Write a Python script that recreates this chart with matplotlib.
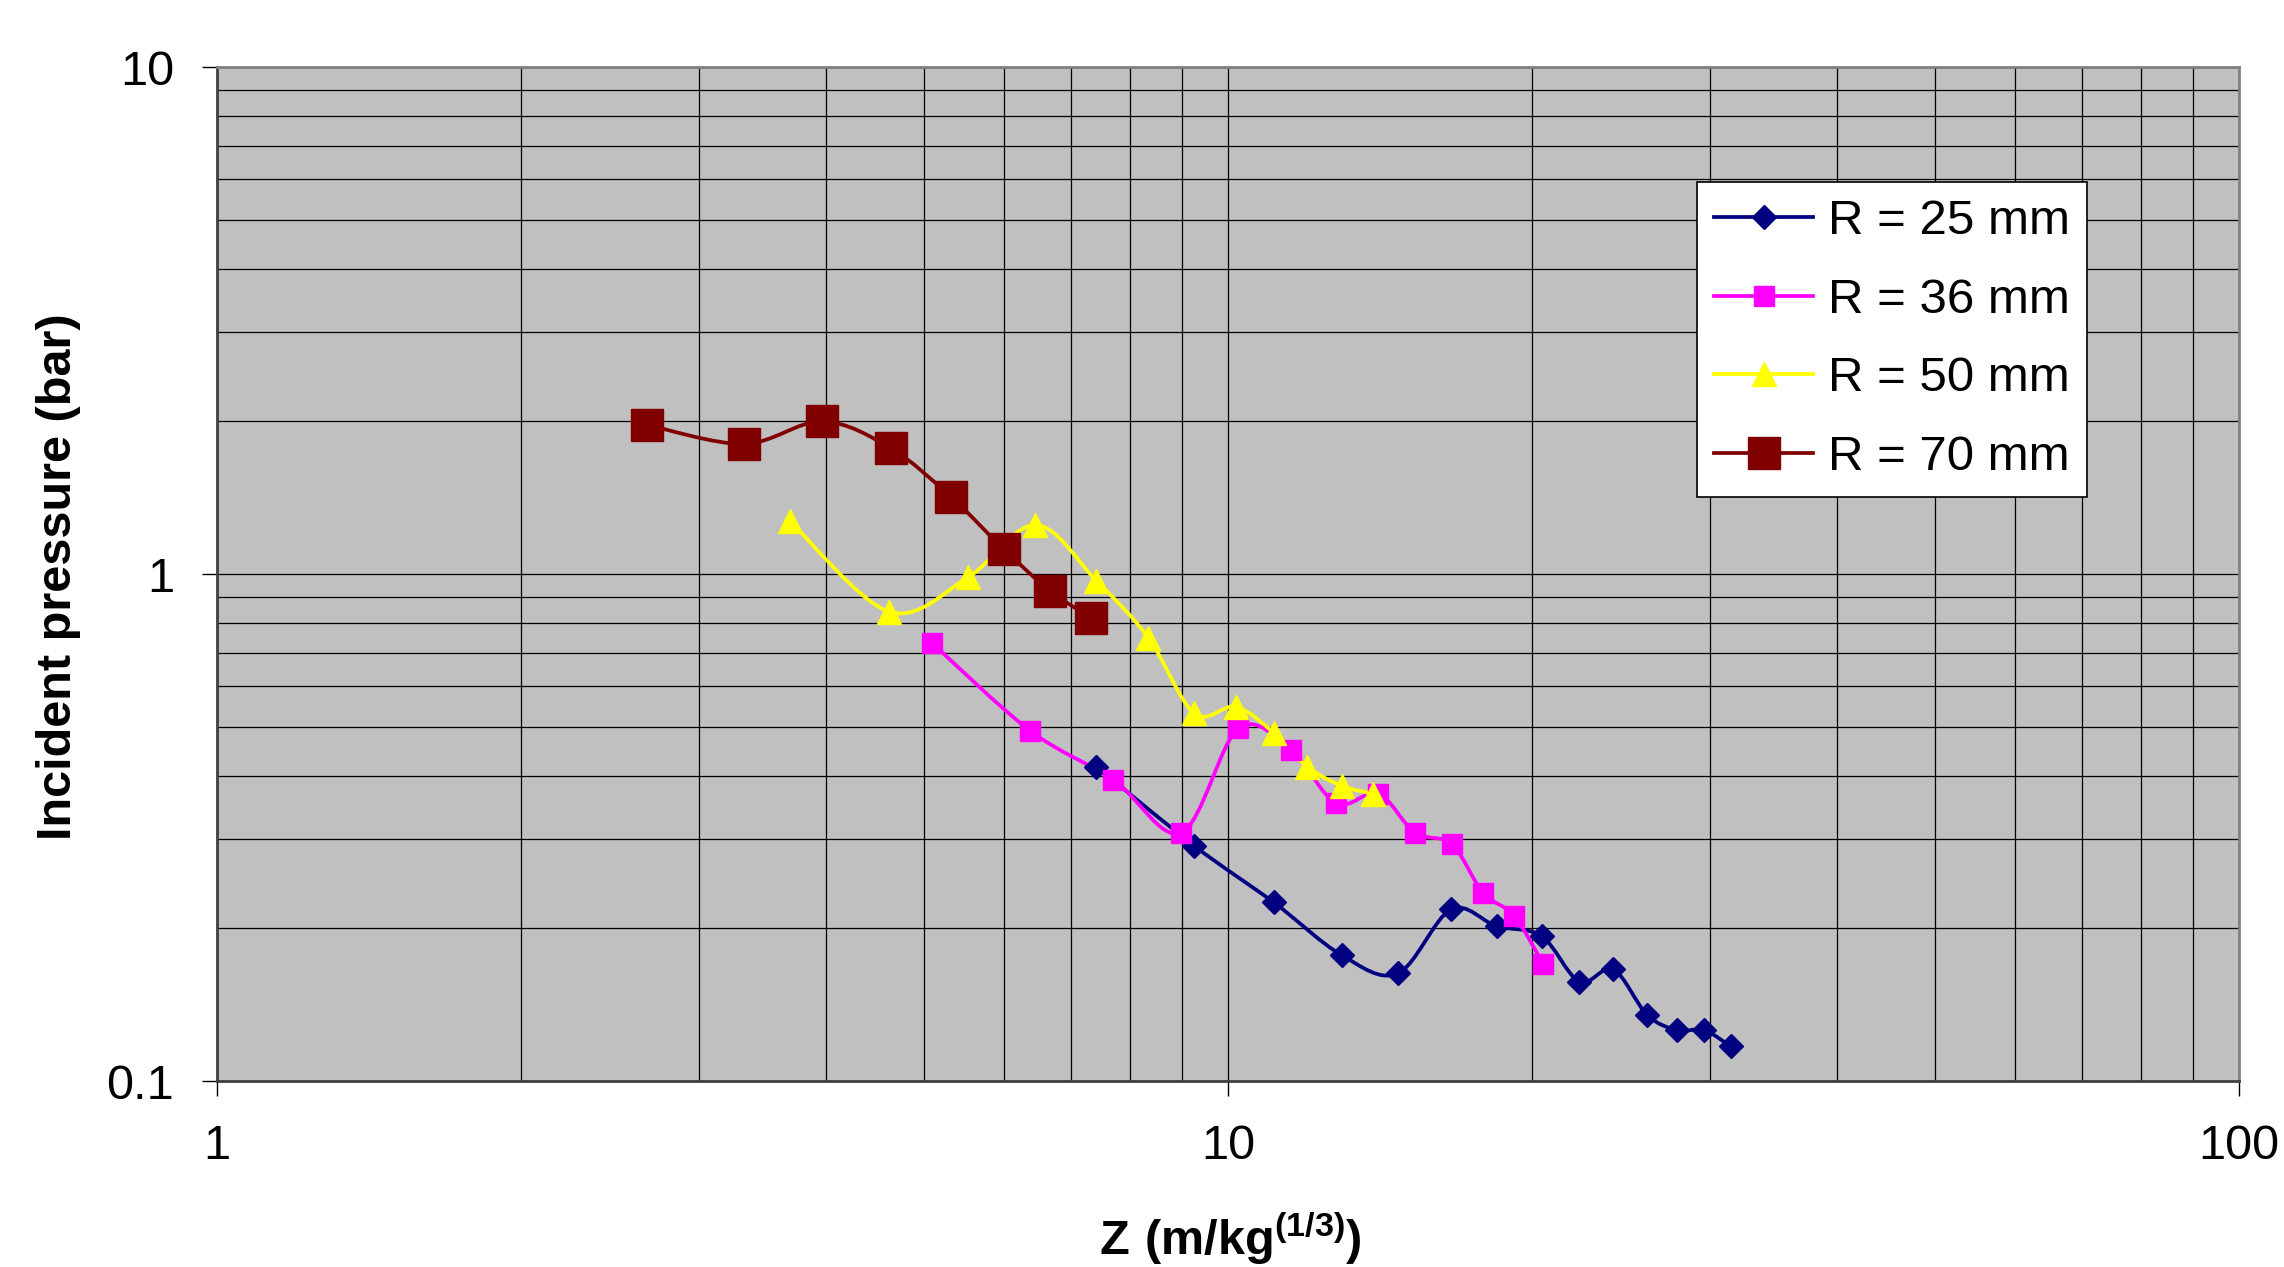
import numpy as np
import matplotlib
matplotlib.use("Agg")
import matplotlib.pyplot as plt
from matplotlib.path import Path
from matplotlib.patches import PathPatch
from matplotlib.lines import Line2D

plt.rcParams['font.family'] = ['Liberation Sans', 'DejaVu Sans']
plt.rcParams['mathtext.fontset'] = 'custom'
plt.rcParams['mathtext.rm'] = 'Liberation Sans'
plt.rcParams['mathtext.bf'] = 'Liberation Sans:bold'

# scaled distance Z (m/kg^(1/3)) and incident pressure (bar)
z_25 = [7.41, 9.26, 11.10, 12.96, 14.72, 16.62, 18.44, 20.43, 22.26, 24.05, 25.98, 27.82, 29.57, 31.43]
p_25 = [0.417, 0.291, 0.225, 0.177, 0.163, 0.218, 0.202, 0.193, 0.157, 0.166, 0.135, 0.126, 0.126, 0.117]

z_36 = [5.10, 6.37, 7.70, 8.99, 10.24, 11.54, 12.79, 14.08, 15.30, 16.65, 17.88, 19.17, 20.51]
p_36 = [0.730, 0.491, 0.393, 0.309, 0.496, 0.450, 0.353, 0.369, 0.309, 0.293, 0.235, 0.212, 0.170]

z_50 = [3.69, 4.62, 5.53, 6.45, 7.41, 8.34, 9.26, 10.18, 11.10, 11.98, 12.96, 13.90]
p_50 = [1.27, 0.843, 0.985, 1.25, 0.97, 0.749, 0.531, 0.547, 0.486, 0.417, 0.382, 0.369]

z_70 = [2.66, 3.32, 3.97, 4.64, 5.32, 6.00, 6.67, 7.32]
p_70 = [1.97, 1.805, 2.00, 1.77, 1.42, 1.12, 0.926, 0.82]

labels = ['R = 25 mm', 'R = 36 mm', 'R = 50 mm', 'R = 70 mm']
x_ticks = [1, 10, 100]
x_tick_labels = ['1', '10', '100']
y_ticks = [0.1, 1, 10]
y_tick_labels = ['0.1', '1', '10']


def smooth_path(x, y):
    # excel-like smoothed line: bezier segments in log space, through the data points
    pts = np.column_stack([np.log10(x), np.log10(y)])
    n = len(pts)
    verts = [pts[0]]
    codes = [Path.MOVETO]
    for i in range(n - 1):
        p0 = pts[i - 1] if i > 0 else pts[i]
        p1 = pts[i]
        p2 = pts[i + 1]
        p3 = pts[i + 2] if i + 2 < n else pts[i + 1]
        verts += [p1 + (p2 - p0) / 6, p2 - (p3 - p1) / 6, p2]
        codes += [Path.CURVE4] * 3
    return Path(10 ** np.array(verts), codes)


fig = plt.figure(figsize=(22.84, 12.67), dpi=100)
ax = fig.add_axes([0.0950, 0.1468, 0.8853, 0.8003])
ax.set_facecolor('#C0C0C0')
ax.set_xscale('log')
ax.set_yscale('log')
ax.set_xlim(1, 100)
ax.set_ylim(0.1, 10)

ax.grid(True, which='both', color='black', linewidth=0.9)
ax.set_axisbelow(True)

series = [
    (z_25, p_25, '#000080', 'D', 12),
    (z_36, p_36, '#FF00FF', 's', 14.5),
    (z_50, p_50, '#FFFF00', '^', 17.5),
    (z_70, p_70, '#800000', 's', 23.5),
]

handles = []
for (zs, ps, color, marker, ms), label in zip(series, labels):
    patch = PathPatch(smooth_path(zs, ps), fill=False, edgecolor=color,
                      linewidth=2.7, transform=ax.transData, zorder=3)
    ax.add_patch(patch)
    ax.plot(zs, ps, linestyle='none', marker=marker, markersize=ms,
            color=color, markeredgecolor=color, markeredgewidth=1, zorder=4)
    handles.append(Line2D([], [], color=color, linewidth=2.7, marker=marker,
                          markersize=ms, markeredgecolor=color, label=label))

ax.set_xticks(x_ticks)
ax.set_xticklabels(x_tick_labels)
ax.set_yticks(y_ticks)
ax.set_yticklabels(y_tick_labels)
ax.tick_params(which='major', length=11, width=1, direction='out',
               labelsize=35, pad=20)
ax.tick_params(which='minor', length=0)
ax.yaxis.set_minor_formatter(plt.NullFormatter())
ax.xaxis.set_minor_formatter(plt.NullFormatter())

for side in ['top', 'right']:
    ax.spines[side].set_color('#808080')
    ax.spines[side].set_linewidth(2)
for side in ['left', 'bottom']:
    ax.spines[side].set_color('#404040')
    ax.spines[side].set_linewidth(2)

leg = ax.legend(handles=handles, loc='upper left', bbox_to_anchor=(0.732, 0.8866),
                borderaxespad=0, fontsize=35.5, fancybox=False, framealpha=1,
                edgecolor='black', handlelength=2.0, handletextpad=0.3,
                borderpad=0.35, labelspacing=0.68)
leg.get_frame().set_linewidth(1.2)

fig.text(0.0254, 0.5446, 'Incident pressure (bar)', rotation=90, ha='center',
         va='center', fontsize=35, fontweight='bold')
fig.text(0.5389, 0.0095, r'$\mathbf{Z\ (m/kg^{(1/3)})}$', ha='center',
         va='baseline', fontsize=35)

fig.savefig('out.png', dpi=100)
